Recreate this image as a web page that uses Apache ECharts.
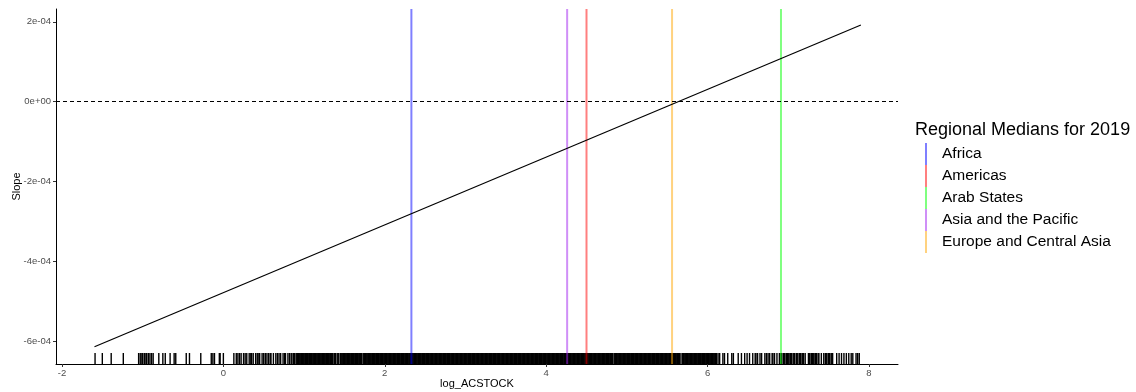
<!DOCTYPE html>
<html>
<head>
<meta charset="utf-8">
<script src="https://cdn.jsdelivr.net/npm/echarts@6/dist/echarts.min.js"></script>
<style>
  html, body { margin: 0; padding: 0; background: #fff; }
  #chart { width: 1136px; height: 392px; }
</style>
</head>
<body>
<div id="chart"></div>
<script>
// axis ranges
const X_MIN = -2.074, X_MAX = 8.36;
const Y_MIN = -6.56e-4, Y_MAX = 2.32e-4;

const xTicks = [-2, 0, 2, 4, 6, 8];
const yTicks = [-6e-4, -4e-4, -2e-4, 0, 2e-4];
const yTickLabels = ['-6e-04', '-4e-04', '-2e-04', '0e+00', '2e-04'];

// fitted slope line (log_ACSTOCK, Slope)
const fitX = [-1.597, 7.90];
const fitY = [-6.13e-4, 1.92e-4];

// regional medians for 2019
const regions = ['Africa', 'Americas', 'Arab States', 'Asia and the Pacific', 'Europe and Central Asia'];
const regionMedians = [2.33, 4.50, 6.91, 4.26, 5.56];
const regionColors = ['rgba(0,0,255,0.5)', 'rgba(255,0,0,0.5)', 'rgba(0,255,0,0.5)', 'rgba(160,32,240,0.5)', 'rgba(255,165,0,0.5)'];

// rug of observed log_ACSTOCK values
const rugValues = [
  -1.59,-1.50,-1.39,-1.24,-1.05,-1.03,-1.01,-1.00,-0.98,-0.97,-0.95,-0.93,-0.91,-0.89,-0.87,
  -0.80,-0.75,-0.72,-0.66,-0.61,-0.59,-0.46,-0.42,-0.28,-0.15,-0.13,-0.11,-0.05,-0.04,0.00,
  0.13,0.16,0.18,0.20,0.22,0.25,0.27,0.29,0.32,0.34,0.35,0.37,0.40,0.42,0.44,0.45,0.48,0.50,
  0.52,0.54,0.56,0.58,0.59,0.62,0.65,0.67,0.69,0.71,0.74,0.76,0.77,0.80,0.82,0.84,0.85,0.87,0.88,
  0.90,0.91,0.92,0.93,0.94,0.95,0.96,0.97,0.98,0.99,
  1.00,1.01,1.02,1.03,1.04,1.05,1.06,1.07,1.08,1.09,
  1.10,1.11,1.12,1.13,1.14,1.15,1.16,1.17,1.18,1.19,
  1.20,1.21,1.22,1.23,1.24,1.25,1.26,1.27,1.28,1.29,
  1.30,1.31,1.32,1.33,1.34,1.35,1.37,1.38,1.39,
  1.41,1.42,1.43,1.45,1.46,1.47,1.48,1.49,
  1.50,1.51,1.52,1.53,1.54,1.55,1.56,1.57,1.58,1.59,
  1.60,1.61,1.62,1.63,1.64,1.65,1.66,1.67,1.68,1.69,
  1.70,1.71,1.73,1.74,1.75,1.76,1.77,1.78,1.79,
  1.80,1.81,1.82,1.83,1.84,1.85,1.86,1.87,1.88,1.89,
  1.90,1.91,1.92,1.93,1.94,1.95,1.96,1.97,1.98,1.99,
  2.00,2.01,2.02,2.03,2.04,2.05,2.06,2.07,2.08,2.09,
  2.10,2.11,2.12,2.13,2.14,2.15,2.16,2.17,2.18,2.19,
  2.20,2.21,2.22,2.23,2.24,2.25,2.26,2.27,2.28,2.29,
  2.30,2.31,2.32,2.33,2.34,2.35,2.36,2.37,2.38,2.39,
  2.40,2.41,2.42,2.43,2.44,2.45,2.46,2.47,2.48,2.49,
  2.50,2.51,2.52,2.53,2.54,2.55,2.56,2.57,2.58,2.59,
  2.60,2.61,2.62,2.63,2.64,2.65,2.66,2.67,2.68,2.69,
  2.70,2.71,2.72,2.73,2.74,2.75,2.76,2.77,2.78,2.79,
  2.80,2.81,2.82,2.83,2.84,2.85,2.86,2.87,2.88,2.89,
  2.90,2.91,2.92,2.93,2.94,2.95,2.96,2.97,2.98,2.99,
  3.00,3.01,3.02,3.03,3.04,3.05,3.06,3.07,3.08,3.09,
  3.10,3.11,3.12,3.13,3.14,3.15,3.16,3.17,3.18,3.19,
  3.20,3.21,3.22,3.23,3.24,3.25,3.26,3.27,3.28,3.29,
  3.30,3.31,3.32,3.33,3.34,3.35,3.36,3.37,3.38,3.39,
  3.40,3.41,3.42,3.43,3.44,3.45,3.46,3.47,3.48,3.49,
  3.50,3.51,3.52,3.53,3.54,3.55,3.56,3.57,3.58,3.59,
  3.60,3.61,3.62,3.63,3.64,3.65,3.66,3.67,3.68,3.69,
  3.70,3.71,3.72,3.73,3.74,3.75,3.76,3.77,3.78,3.79,
  3.80,3.81,3.82,3.83,3.84,3.85,3.86,3.87,3.88,3.89,
  3.90,3.91,3.92,3.93,3.94,3.95,3.96,3.97,3.98,3.99,
  4.00,4.01,4.02,4.03,4.04,4.05,4.06,4.07,4.08,4.09,
  4.10,4.11,4.12,4.13,4.14,4.15,4.16,4.17,4.18,4.19,
  4.20,4.21,4.22,4.23,4.24,4.25,4.26,4.27,4.28,4.29,
  4.30,4.31,4.32,4.33,4.34,4.35,4.36,4.37,4.38,4.39,
  4.40,4.41,4.42,4.43,4.44,4.45,4.46,4.47,4.48,4.49,
  4.50,4.51,4.52,4.53,4.54,4.55,4.56,4.57,4.58,4.59,
  4.60,4.61,4.62,4.63,4.64,4.65,4.66,4.67,4.68,4.69,
  4.70,4.71,4.72,4.73,4.74,4.75,4.76,4.77,4.78,4.79,
  4.80,4.81,4.82,4.84,4.85,4.86,4.87,4.88,4.89,
  4.90,4.91,4.92,4.93,4.94,4.95,4.96,4.97,4.98,4.99,
  5.00,5.01,5.02,5.03,5.04,5.05,5.06,5.07,5.08,5.09,
  5.10,5.11,5.12,5.13,5.14,5.15,5.16,5.17,5.18,5.19,
  5.20,5.21,5.22,5.23,5.24,5.25,5.26,5.27,5.28,5.29,
  5.30,5.31,5.32,5.33,5.34,5.35,5.36,5.37,5.38,5.39,
  5.40,5.41,5.42,5.43,5.44,5.45,5.46,5.47,5.48,5.49,
  5.50,5.51,5.52,5.53,5.54,5.55,5.56,5.57,5.58,5.59,
  5.60,5.61,5.62,5.63,5.64,5.65,5.67,5.69,
  5.70,5.71,5.72,5.73,5.74,5.75,5.76,5.77,5.78,5.79,
  5.80,5.81,5.82,5.83,5.84,5.85,5.86,5.87,5.88,5.89,
  5.90,5.91,5.92,5.93,5.94,5.95,5.96,5.97,5.98,5.99,
  6.00,6.01,6.02,6.03,6.04,6.05,6.06,6.07,6.08,6.09,
  6.10,6.11,6.13,6.15,6.19,6.21,6.25,6.30,6.32,6.38,6.42,6.46,6.49,6.52,6.56,6.59,
  6.60,6.62,6.65,6.67,6.71,6.73,6.75,6.77,6.80,6.81,6.83,6.86,6.89,
  6.91,6.92,6.94,6.95,6.96,6.98,6.99,7.00,7.02,7.03,7.04,7.06,7.07,7.08,7.10,7.11,
  7.12,7.14,7.15,7.17,7.18,7.19,7.21,7.25,7.26,7.27,7.29,7.30,7.31,7.33,7.34,7.35,
  7.37,7.38,7.41,7.44,7.46,7.47,7.48,7.50,7.51,7.53,7.54,7.55,
  7.60,7.63,7.66,7.69,7.72,7.75,7.78,7.80,7.84,7.86,7.88
];

const chart = echarts.init(document.getElementById('chart'));

const tickText = { color: '#4D4D4D', fontSize: 9.5, fontFamily: 'Liberation Sans' };

const series = [
  {
    name: 'rug',
    type: 'custom',
    z: 1,
    silent: true,
    data: rugValues.map((v) => [v, Y_MIN]),
    encode: { x: 0, y: 1 },
    renderItem: (params, api) => {
      const p = api.coord([api.value(0), Y_MIN]);
      return {
        type: 'line',
        shape: { x1: p[0], y1: p[1], x2: p[0], y2: p[1] - 11 },
        style: { stroke: '#000', lineWidth: 1.4 }
      };
    }
  }
];

regions.forEach((name, i) => {
  series.push({
    name: name,
    type: 'line',
    z: 2,
    showSymbol: false,
    data: [[regionMedians[i], Y_MIN], [regionMedians[i], Y_MAX]],
    lineStyle: { color: regionColors[i], width: 2 },
    itemStyle: { color: regionColors[i] }
  });
});

series.push({
  name: 'fit',
  type: 'line',
  z: 3,
  showSymbol: false,
  data: fitX.map((x, i) => [x, fitY[i]]),
  lineStyle: { color: '#000', width: 1.2 },
  markLine: {
    silent: true,
    symbol: 'none',
    label: { show: false },
    lineStyle: { color: '#000', width: 1, type: [4, 3] },
    data: [{ yAxis: 0 }]
  }
});

const option = {
  animation: false,
  backgroundColor: '#fff',
  grid: { left: 56, right: 238, top: 9, bottom: 28, containLabel: false, outerBoundsMode: 'none' },
  title: {
    text: 'Regional Medians for 2019',
    left: 915,
    top: 121,
    padding: 0,
    textStyle: { fontSize: 18, fontWeight: 'normal', color: '#000', fontFamily: 'Liberation Sans' }
  },
  legend: {
    data: regions,
    orient: 'vertical',
    left: 925,
    top: 143,
    padding: 0,
    icon: 'rect',
    itemWidth: 2,
    itemHeight: 22,
    itemGap: 0,
    selectedMode: false,
    textStyle: { fontSize: 15.5, color: '#000', fontFamily: 'Liberation Sans', padding: [0, 0, 0, 10] }
  },
  xAxis: {
    type: 'value',
    min: X_MIN,
    max: X_MAX,
    name: 'log_ACSTOCK',
    nameLocation: 'middle',
    nameGap: 14,
    nameMoveOverlap: false,
    nameTextStyle: { fontSize: 11, color: '#000', fontFamily: 'Liberation Sans' },
    splitLine: { show: false },
    axisLine: { onZero: false, lineStyle: { color: '#000', width: 1 } },
    axisTick: { customValues: xTicks, length: 3, lineStyle: { color: '#333' } },
    axisLabel: { customValues: xTicks, margin: 4, ...tickText }
  },
  yAxis: {
    type: 'value',
    min: Y_MIN,
    max: Y_MAX,
    name: 'Slope',
    nameLocation: 'middle',
    nameGap: 34,
    nameMoveOverlap: false,
    nameTextStyle: { fontSize: 11, color: '#000', fontFamily: 'Liberation Sans' },
    splitLine: { show: false },
    axisLine: { show: true, onZero: false, lineStyle: { color: '#000', width: 1 } },
    axisTick: { show: true, customValues: yTicks, length: 3, lineStyle: { color: '#333' } },
    axisLabel: {
      customValues: yTicks,
      margin: 5,
      ...tickText,
      formatter: (v) => {
        let best = 0;
        yTicks.forEach((t, i) => { if (Math.abs(t - v) < Math.abs(yTicks[best] - v)) best = i; });
        return yTickLabels[best];
      }
    }
  },
  series: series
};

chart.setOption(option);
</script>
</body>
</html>
